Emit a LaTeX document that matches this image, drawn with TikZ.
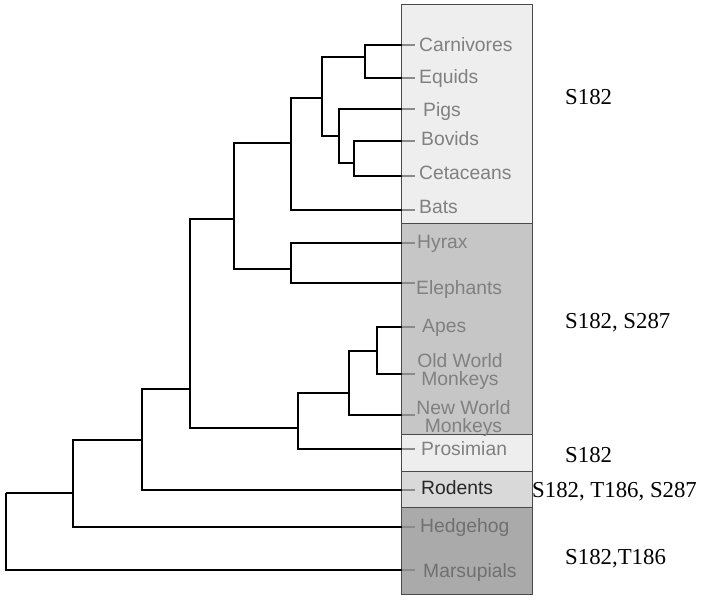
\documentclass[tikz,border=0pt]{standalone}
\usepackage{fontspec}
\setmainfont{Liberation Serif}
\newfontfamily\labfont{Liberation Sans}
\definecolor{secLight}{HTML}{EEEEEE}
\definecolor{secMid}{HTML}{C6C6C6}
\definecolor{secRod}{HTML}{D9D9D9}
\definecolor{secDark}{HTML}{AAAAAA}
\definecolor{boxLine}{HTML}{4A4A4A}
\definecolor{labGray}{HTML}{808080}
\definecolor{labDark}{HTML}{707070}
\definecolor{labRod}{HTML}{262626}
\definecolor{tickGray}{HTML}{8A8A8A}
\tikzset{
  branch/.style={draw=black, line width=1.9pt},
  tick/.style={draw=tickGray, line width=1.2pt},
  sect/.style={draw=boxLine, line width=0.9pt},
  lab/.style={font=\labfont\fontsize{19.3}{18.3}\selectfont, text=labGray, inner sep=0pt, anchor=base west},
  labc/.style={font=\labfont\fontsize{19.3}{18.3}\selectfont, text=labGray, inner sep=0pt, align=center},
  note/.style={font=\fontsize{22.8}{26}\selectfont, text=black, inner sep=0pt, anchor=base west}
}
\begin{document}
\begin{tikzpicture}[x=1pt,y=-1pt]
\useasboundingbox (0,0) rectangle (707,603);
% box sections
\path[sect, fill=secLight] (401.5,4.5) rectangle (532.5,223);
\path[sect, fill=secMid] (401.5,223) rectangle (532.5,434);
\path[sect, fill=secLight] (401.5,434) rectangle (532.5,471);
\path[sect, fill=secRod] (401.5,471) rectangle (532.5,507);
\path[sect, fill=secDark] (401.5,507) rectangle (532.5,594);
% leaf tips
\coordinate (tCar) at (401.5,45);
\coordinate (tEqu) at (401.5,78);
\coordinate (tPig) at (401.5,109);
\coordinate (tBov) at (401.5,141);
\coordinate (tCet) at (401.5,176);
\coordinate (tBat) at (401.5,210);
\coordinate (tHyr) at (401.5,243);
\coordinate (tEle) at (401.5,283);
\coordinate (tApe) at (401.5,327);
\coordinate (tOWM) at (401.5,374);
\coordinate (tNWM) at (401.5,415);
\coordinate (tPro) at (401.5,449);
\coordinate (tRod) at (401.5,490);
\coordinate (tHed) at (401.5,527);
\coordinate (tMar) at (401.5,570);
% internal nodes
\coordinate (CE) at (365,57);
\coordinate (BC) at (354,163);
\coordinate (PBC) at (339,136);
\coordinate (CEPBC) at (322,98);
\coordinate (Laur) at (291,143);
\coordinate (HE) at (291,269);
\coordinate (LA) at (234,219);
\coordinate (AO) at (377,351);
\coordinate (AON) at (349,393);
\coordinate (Pri) at (298,428);
\coordinate (LAP) at (190,389);
\coordinate (LAPR) at (142,440);
\coordinate (LAPRH) at (73,493);
\coordinate (root) at (6,493);
% branches
\draw[branch] (CE) |- (tCar);
\draw[branch] (CE) |- (tEqu);
\draw[branch] (BC) |- (tBov);
\draw[branch] (BC) |- (tCet);
\draw[branch] (PBC) |- (tPig);
\draw[branch] (PBC) |- (BC);
\draw[branch] (CEPBC) |- (CE);
\draw[branch] (CEPBC) |- (PBC);
\draw[branch] (Laur) |- (CEPBC);
\draw[branch] (Laur) |- (tBat);
\draw[branch] (HE) |- (tHyr);
\draw[branch] (HE) |- (tEle);
\draw[branch] (LA) |- (Laur);
\draw[branch] (LA) |- (HE);
\draw[branch] (AO) |- (tApe);
\draw[branch] (AO) |- (tOWM);
\draw[branch] (AON) |- (AO);
\draw[branch] (AON) |- (tNWM);
\draw[branch] (Pri) |- (AON);
\draw[branch] (Pri) |- (tPro);
\draw[branch] (LAP) |- (LA);
\draw[branch] (LAP) |- (Pri);
\draw[branch] (LAPR) |- (LAP);
\draw[branch] (LAPR) |- (tRod);
\draw[branch] (LAPRH) |- (LAPR);
\draw[branch] (LAPRH) |- (tHed);
\draw[branch] (root) |- (LAPRH);
\draw[branch] (root) |- (tMar);
% ticks
\foreach \t in {tCar,tEqu,tPig,tBov,tCet,tBat,tHyr,tEle,tApe,tOWM,tNWM,tPro,tRod,tHed,tMar}
  \draw[tick] (\t) -- ++(13,0);
% leaf labels
\node[lab] (Car) at (419,51) {Carnivores};
\node[lab] (Equ) at (419,83) {Equids};
\node[lab] (Pig) at (423,116) {Pigs};
\node[lab] (Bov) at (421,145) {Bovids};
\node[lab] (Cet) at (419,179) {Cetaceans};
\node[lab] (Bat) at (419,213) {Bats};
\node[lab] (Hyr) at (417,248) {Hyrax};
\node[lab] (Ele) at (416,294) {Elephants};
\node[lab] (Ape) at (422,332) {Apes};
\node[labc, anchor=north] (OWM) at (460,353.5) {Old World\\Monkeys};
\node[labc, anchor=north] (NWM) at (463.5,400) {New World\\Monkeys};
\node[lab] (Pro) at (421,455) {Prosimian};
\node[lab, text=labRod] (Rod) at (421,494) {Rodents};
\node[lab, text=labDark] (Hed) at (420,532) {Hedgehog};
\node[lab, text=labDark] (Mar) at (423,577) {Marsupials};
% notes
\node[note] (n1) at (565,104) {S182};
\node[note] (n2) at (565,328) {S182, S287};
\node[note] (n3) at (565,462) {S182};
\node[note] (n4) at (532,497) {S182, T186, S287};
\node[note] (n5) at (565,564) {S182,T186};
\end{tikzpicture}
\end{document}
